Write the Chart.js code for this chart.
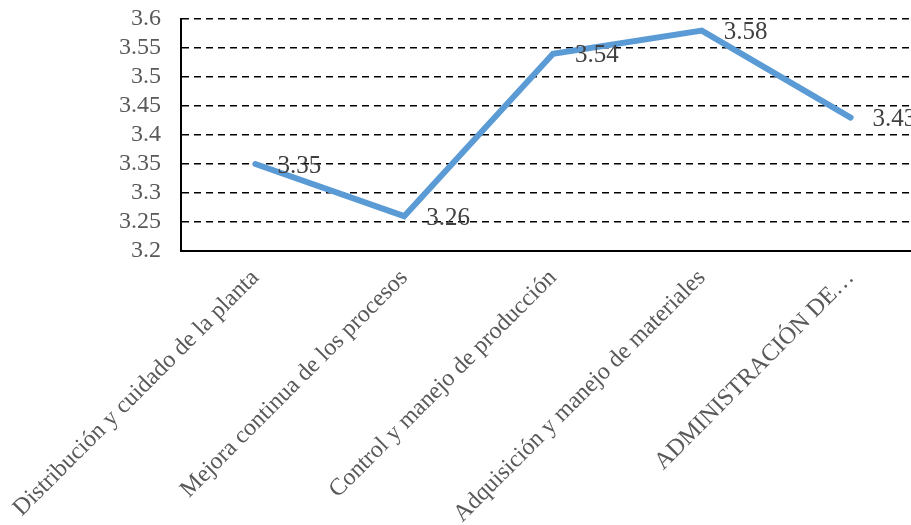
<!DOCTYPE html>
<html>
<head>
<meta charset="utf-8">
<script src="https://cdn.jsdelivr.net/npm/chart.js@4.4.1/dist/chart.umd.min.js"></script>
<style>
    html, body { margin: 0; padding: 0; background: #fff; overflow: hidden; }
    #wrap { width: 925px; height: 525px; }
</style>
</head>
<body>
<div id="wrap"><canvas id="lineChart"></canvas></div>
<script>
const CATEGORIES = [
    'Distribución y cuidado de la planta',
    'Mejora continua de los procesos',
    'Control y manejo de producción',
    'Adquisición y manejo de materiales',
    'ADMINISTRACIÓN DE…'
];
const SCORES = [3.35, 3.26, 3.54, 3.58, 3.43];
const Y_MIN = 3.2;
const Y_MAX = 3.6;
const Y_STEP = 0.05;

const SERIF = '"Liberation Serif", "Times New Roman", serif';

// Value labels to the right of each point
const pointLabels = {
    id: 'pointLabels',
    afterDatasetsDraw(chart) {
        const {ctx} = chart;
        const values = chart.data.datasets[0].data;
        ctx.save();
        ctx.font = '25px ' + SERIF;
        ctx.fillStyle = '#404040';
        ctx.textAlign = 'left';
        ctx.textBaseline = 'middle';
        chart.getDatasetMeta(0).data.forEach((pt, i) => {
            ctx.fillText(values[i].toFixed(2), pt.x + 22, pt.y + 2);
        });
        ctx.restore();
    }
};

new Chart(document.getElementById('lineChart'), {
    type: 'line',
    data: {
        labels: CATEGORIES,
        datasets: [{
            data: SCORES,
            borderColor: '#5B9BD5',
            borderWidth: 6,
            borderCapStyle: 'round',
            pointRadius: 0,
            tension: 0,
            fill: false
        }]
    },
    options: {
        responsive: true,
        maintainAspectRatio: false,
        animation: false,
        events: [],
        layout: { padding: { top: 19, left: 0, right: 0, bottom: 0 } },
        plugins: { legend: { display: false }, tooltip: { enabled: false } },
        scales: {
            x: {
                offset: true,
                grid: { display: false, drawTicks: false },
                border: { display: true, color: '#000', width: 2 },
                ticks: {
                    minRotation: 45,
                    maxRotation: 45,
                    autoSkip: false,
                    padding: 13,
                    color: '#595959',
                    font: { family: SERIF, size: 24 }
                },
                afterFit(scale) {
                    scale.height = 274;
                    scale.paddingLeft = 0;
                    scale.paddingRight = 0;
                }
            },
            y: {
                min: Y_MIN,
                max: Y_MAX,
                grid: {
                    drawTicks: false,
                    color: c => (c.tick && Math.abs(c.tick.value - Y_MIN) < 1e-6) ? 'rgba(0,0,0,0)' : '#000',
                    lineWidth: 1.5
                },
                border: { display: true, color: '#000', width: 2, dash: [7, 5] },
                ticks: {
                    stepSize: Y_STEP,
                    autoSkip: false,
                    padding: 20,
                    color: '#595959',
                    font: { family: SERIF, size: 24 },
                    callback: v => String(Number(v.toFixed(2)))
                },
                afterFit(scale) {
                    scale.width = 181;
                    scale.paddingTop = 0;
                    scale.paddingBottom = 0;
                }
            }
        }
    },
    plugins: [pointLabels]
});
</script>
</body>
</html>
